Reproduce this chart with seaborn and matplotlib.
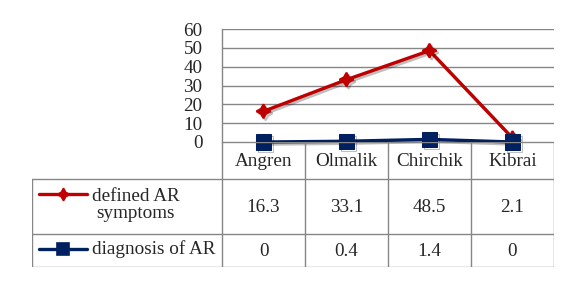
import numpy as np
import pandas as pd
import matplotlib
matplotlib.use("Agg")
import matplotlib.pyplot as plt
import matplotlib.patheffects as pe
import seaborn as sns

# ---------------------------------------------------
# data
# ---------------------------------------------------
cities = ["Angren", "Olmalik", "Chirchik", "Kibrai"]
defined_ar = [16.3, 33.1, 48.5, 2.1]
diagnosis_ar = [0, 0.4, 1.4, 0]
series_names = ["defined AR\nsymptoms", "diagnosis of AR"]
yticks = [0, 10, 20, 30, 40, 50, 60]

red = "#C00000"
navy = "#002060"
grid_c = "#868686"
fs = 13.8

sns.set_style("white")
plt.rcParams["font.family"] = ["Liberation Serif", "DejaVu Serif"]
plt.rcParams["font.size"] = fs

df = pd.DataFrame({"city": cities, "defined": defined_ar, "diag": diagnosis_ar})

fig = plt.figure(figsize=(5.75, 2.86), dpi=100)
W, H = 575, 286

# plot area (pixels): x 222..554, y 29..142
ax = fig.add_axes([222 / W, 1 - 142 / H, (554 - 222) / W, (142 - 29) / H])

shadow = [pe.SimpleLineShadow(offset=(1.5, -1.5), alpha=0.25), pe.Normal()]

sns.lineplot(data=df, x="city", y="defined", ax=ax, color=red, lw=2.4,
             marker=(4, 1, 0), markersize=10, markeredgecolor=red,
             markeredgewidth=1.5, clip_on=False, zorder=4, path_effects=shadow)
sns.lineplot(data=df, x="city", y="diag", ax=ax, color=navy, lw=2.4,
             marker="s", markersize=11, markeredgecolor=navy,
             clip_on=False, zorder=5, path_effects=shadow)

ax.set_xlim(-0.5, len(cities) - 0.5)
ax.set_ylim(0, 60)
ax.set_yticks(yticks)
ax.set_yticklabels([str(t) for t in yticks])
ax.tick_params(axis="y", length=0, pad=14, labelsize=fs)
ax.set_xticks([])
ax.set_xlabel("")
ax.set_ylabel("")
ax.yaxis.grid(True, color=grid_c, lw=1)
ax.set_axisbelow(True)
for s in ["top", "right", "bottom"]:
    ax.spines[s].set_visible(False)
ax.spines["left"].set_color(grid_c)
ax.spines["left"].set_linewidth(1)

# ---------------------------------------------------
# data table below the chart
# ---------------------------------------------------
col_w = (554 - 222) / len(cities)          # pixel width of a category column
lab_w = (222 - 32) / col_w                 # label column in column units
tax = fig.add_axes([32 / W, 1 - 267 / H, (554 - 32) / W, (267 - 142) / H])
x0 = -0.5 - lab_w
tax.set_xlim(x0, len(cities) - 0.5)
tax.set_ylim(125, 0)
tax.axis("off")

row_edges = [0, 37, 92, 125]
lc = dict(color=grid_c, lw=1)
# horizontal lines
tax.plot([-0.5, len(cities) - 0.5], [row_edges[0]] * 2, **lc)
for yy in row_edges[1:]:
    tax.plot([x0, len(cities) - 0.5], [yy, yy], **lc)
# vertical lines
for i in range(len(cities) + 1):
    tax.plot([i - 0.5, i - 0.5], [0, 125], **lc)
tax.plot([x0, x0], [37, 125], **lc)

for i, c in enumerate(cities):
    tax.text(i, 19, c, ha="center", va="center", fontsize=fs)
    tax.text(i, 65, f"{defined_ar[i]:g}", ha="center", va="center", fontsize=fs)
    tax.text(i, 109, f"{diagnosis_ar[i]:g}", ha="center", va="center", fontsize=fs)

# legend keys in the label column
kx0 = x0 + 7 / col_w
kx1 = x0 + 55 / col_w
tx = x0 + 60 / col_w
for yy, name, col, mk in [(52, series_names[0], red, (4, 1, 0)),
                          (107, series_names[1], navy, "s")]:
    tax.plot([kx0, kx1], [yy, yy], color=col, lw=2.4)
    tax.plot([(kx0 + kx1) / 2], [yy], color=col, marker=mk, markersize=9,
             markeredgecolor=col, markeredgewidth=1.2)
tax.text(tx, 63, series_names[0], ha="left", va="center", multialignment="center",
         fontsize=fs, linespacing=1.0)
tax.text(tx, 107, series_names[1], ha="left", va="center", fontsize=fs)

fig.savefig("out.png", dpi=100)
